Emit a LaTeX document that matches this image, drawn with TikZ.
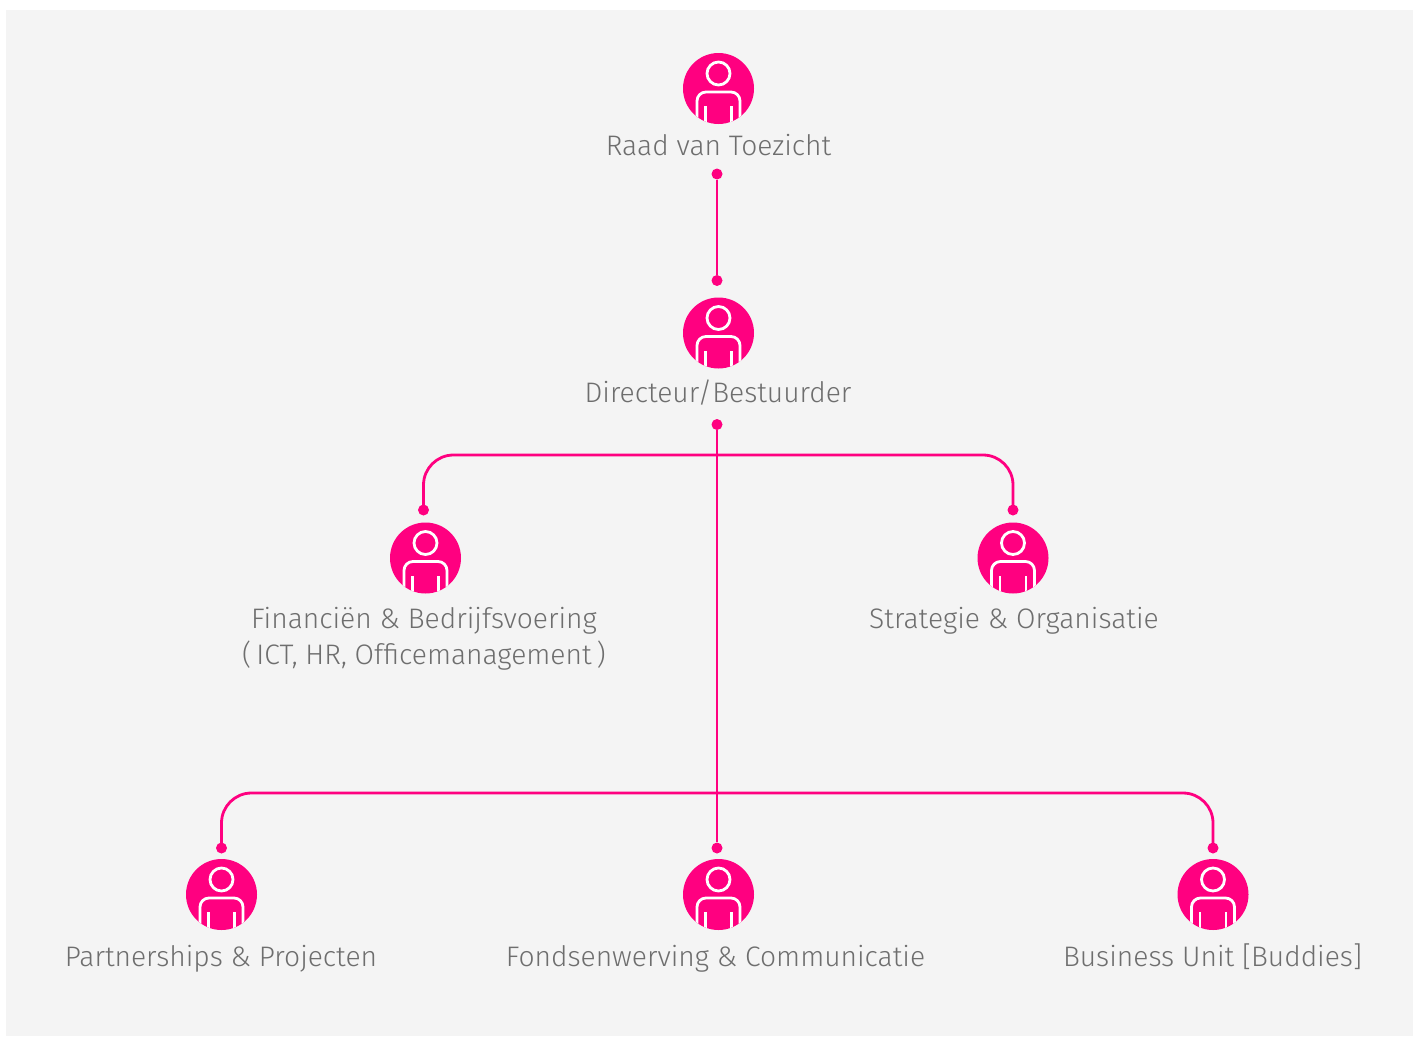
\documentclass[tikz,border=0pt]{standalone}
\usepackage{fontspec}
\setmainfont{Fira Sans Light}
\usepackage{xcolor}
\usetikzlibrary{positioning}
\definecolor{roze}{HTML}{FF0080}
\definecolor{vlak}{HTML}{F4F4F4}
\definecolor{tekst}{HTML}{6E6E6E}
\tikzset{
  Persoon/.style={circle,fill=roze,inner sep=0pt,minimum size=71pt},
  Stip/.style={circle,fill=roze,inner sep=0pt,minimum size=11pt},
  Lijn/.style={draw=roze,line width=2.8pt},
  Witlijn/.style={white,line width=2.8pt},
  Naam/.style={anchor=base,text=tekst,align=center,inner sep=0pt,font=\fontsize{28.2}{36}\selectfont}
}
\begin{document}
\begin{tikzpicture}[x=1pt,y=-1pt]
\useasboundingbox (0,0) rectangle (1413,1036);
\fill[vlak] (6,10) rectangle (1413,1036);

%Personen
\node[Persoon] (rvt) at (718.5,88.5) {};
\node[Persoon] (dir) at (718.5,333) {};
\node[Persoon] (fin) at (425.5,558) {};
\node[Persoon] (str) at (1013,558) {};
\node[Persoon] (par) at (221.5,894.5) {};
\node[Persoon] (fon) at (718.5,894.5) {};
\node[Persoon] (bus) at (1213,894.5) {};

%Poppetje
\foreach \p in {rvt,dir,fin,str,par,fon,bus}
{%
  \begin{scope}[shift={(\p.center)}]
    \clip (0,0) circle (35.5);
    \draw[Witlijn] (0,-15) circle (11.5);
    \draw[Witlijn,rounded corners=9pt] (-21.5,40) -- (-21.5,3.5) -- (21.5,3.5) -- (21.5,40);
    \draw[Witlijn] (-13,40) -- (-13,17.5);
    \draw[Witlijn] (13,40) -- (13,17.5);
  \end{scope}
}

%Namen
\node[Naam] (rvtN) at (718.5,155) {Raad van Toezicht};
\node[Naam] (dirN) at (718,402) {Directeur/Bestuurder};
\node[Naam] (finN) at (424,664) {Financiën \& Bedrijfsvoering\\(\kern5pt ICT, HR, Officemanagement\kern5pt)};
\node[Naam] (strN) at (1014,628) {Strategie \& Organisatie};
\node[Naam] (parN) at (221,966) {Partnerships \& Projecten};
\node[Naam] (fonN) at (715.5,966) {Fondsenwerving \& Communicatie};
\node[Naam] (busN) at (1212.5,966) {Business Unit [Buddies]};

%Stippen
\node[Stip] (rvtU) at (717,174) {};
\node[Stip] (dirO) at (717,280.5) {};
\node[Stip] (dirU) at (717,424.5) {};
\node[Stip] (finO) at (423.5,510) {};
\node[Stip] (strO) at (1013,510) {};
\node[Stip] (parO) at (221.5,848) {};
\node[Stip] (fonO) at (717,848) {};
\node[Stip] (busO) at (1213,848) {};
\coordinate (takA) at (717,455);
\coordinate (takB) at (717,793);

%Lijnen
\draw[Lijn] (rvtU) -- (dirO);
\draw[Lijn] (dirU) -- (fonO);
\draw[Lijn,rounded corners=30pt] (finO.center) |- (takA) -| (strO.center);
\draw[Lijn,rounded corners=30pt] (parO.center) |- (takB) -| (busO.center);

\end{tikzpicture}
\end{document}
